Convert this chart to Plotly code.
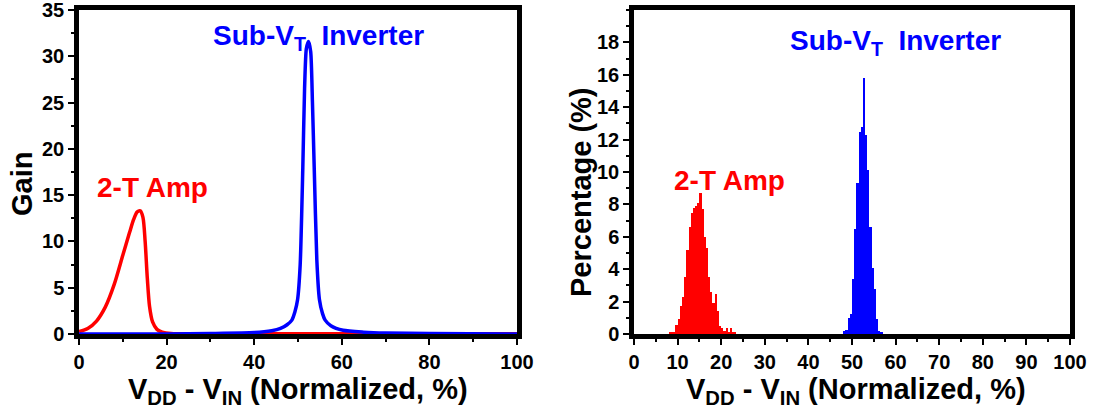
import plotly.graph_objects as go

# ---------------- data ----------------
# Left panel: gain curves vs (VDD - VIN) normalized %
amp_x = [0, 2, 4, 6, 8, 10, 11.5, 12.5, 13.3, 14.0, 14.6, 15.1, 15.6, 16.1, 16.8, 17.8, 19, 21, 30, 50, 70, 100]
amp_gain = [0.25, 0.6, 1.4, 2.9, 5.3, 8.5, 10.9, 12.4, 13.2, 13.3, 12.6, 10.0, 6.0, 3.0, 1.3, 0.5, 0.2, 0.05, 0.02, 0.02, 0.02, 0.02]

inv_x = [0, 10, 20, 30, 40, 44, 46, 47.5, 48.6, 49.3, 49.9, 50.5, 51.1, 51.5, 51.9, 52.4,
         52.9, 53.3, 53.7, 54.3, 54.9, 55.6, 56.2, 57.5, 60.3, 65, 70, 80, 100]
inv_gain = [0, 0, 0, 0.05, 0.15, 0.35, 0.6, 1.0, 1.5, 2.4, 3.7, 7.5, 18.0, 26.5, 30.8, 31.6,
            30.5, 25.0, 18.0, 8.0, 3.7, 2.2, 1.5, 0.9, 0.4, 0.2, 0.1, 0.05, 0]

# Right panel: histograms (bin width 0.5 %)
amp_bins = [8.25, 8.75, 9.25, 9.75, 10.25, 10.75, 11.25, 11.75, 12.25, 12.75, 13.25, 13.75,
            14.25, 14.75, 15.25, 15.75, 16.25, 16.75, 17.25, 17.75, 18.25, 18.75, 19.25,
            19.75, 20.25, 20.75, 21.25, 21.75, 22.25, 22.75, 23.25]
amp_pct = [0.1, 0.1, 0.1, 0.55, 0.9, 1.7, 2.3, 3.5, 5.2, 6.6, 7.5, 7.8,
           7.9, 8.1, 8.7, 7.7, 6.0, 5.3, 3.5, 2.6, 1.9, 2.5, 1.4,
           0.5, 0.4, 0.2, 0.35, 0.1, 0.4, 0.1, 0.1]

inv_bins = [48.25, 48.75, 49.25, 49.75, 50.25, 50.75, 51.25, 51.75, 52.25, 52.75,
            53.25, 53.75, 54.25, 54.75, 55.25, 55.75, 56.25, 56.75]
inv_pct = [0.2, 0.25, 1.0, 1.25, 3.4, 6.5, 9.3, 12.45, 12.75, 15.8,
           12.3, 10.1, 6.6, 4.1, 2.8, 0.9, 0.2, 0.15]

left_yticks = [0, 5, 10, 15, 20, 25, 30, 35]
left_xticks = [0, 20, 40, 60, 80, 100]
right_yticks = [0, 2, 4, 6, 8, 10, 12, 14, 16, 18]
right_xticks = [0, 10, 20, 30, 40, 50, 60, 70, 80, 90, 100]

RED = "#FF0000"
BLUE = "#0000FF"
FONT = "Liberation Sans, Arial, sans-serif"

fig = go.Figure()

fig.add_trace(go.Scatter(x=amp_x, y=amp_gain, mode="lines",
                         line=dict(color=RED, width=3.5, shape="spline", smoothing=0.8),
                         xaxis="x", yaxis="y", showlegend=False))
fig.add_trace(go.Scatter(x=inv_x, y=inv_gain, mode="lines",
                         line=dict(color=BLUE, width=3.5, shape="spline", smoothing=0.6),
                         xaxis="x", yaxis="y", showlegend=False))

fig.add_trace(go.Bar(x=amp_bins, y=amp_pct, width=0.5, marker=dict(color=RED, line=dict(width=0)),
                     xaxis="x2", yaxis="y2", showlegend=False))
fig.add_trace(go.Bar(x=inv_bins, y=inv_pct, width=0.5, marker=dict(color=BLUE, line=dict(width=0)),
                     xaxis="x2", yaxis="y2", showlegend=False))

W, H = 1107, 413
def px_x(p):
    return p / W
def px_y(p):
    return 1 - p / H

def bold(vals):
    return ["<b>%s</b>" % v for v in vals]

axis_common = dict(showline=True, linecolor="black", linewidth=4.5, mirror=True,
                   ticks="outside", ticklen=6, tickwidth=2, tickcolor="black",
                   showgrid=False, zeroline=False, ticklabeloverflow="allow",
                   automargin=False,
                   tickfont=dict(family=FONT, size=20, color="black", weight="bold"))

minor_style = dict(ticks="outside", ticklen=3, tickwidth=1.5, tickcolor="black")

fig.update_layout(
    template="none",
    width=W, height=H,
    margin=dict(l=0, r=0, t=0, b=0, autoexpand=False),
    paper_bgcolor="white", plot_bgcolor="white",
    bargap=0,
    xaxis=dict(domain=[px_x(79), px_x(517)], range=[0, 100], anchor="y",
               tickvals=left_xticks, ticktext=bold(left_xticks),
               minor=dict(dtick=10, **minor_style), **axis_common),
    yaxis=dict(domain=[px_y(334), px_y(10)], range=[0, 35], anchor="x",
               tickvals=left_yticks, ticktext=bold(left_yticks),
               minor=dict(dtick=2.5, **minor_style), **axis_common),
    xaxis2=dict(domain=[px_x(634), px_x(1070)], range=[0, 100], anchor="y2",
                tickvals=right_xticks, ticktext=bold(right_xticks),
                minor=dict(dtick=5, **minor_style), **axis_common),
    yaxis2=dict(domain=[px_y(334), px_y(10)], range=[0, 20], anchor="x2",
                tickvals=right_yticks, ticktext=bold(right_yticks),
                minor=dict(dtick=1, **minor_style), **axis_common),
)

title_font = dict(family=FONT, size=29, color="black", weight="bold")
xtitle = "V<sub>DD</sub> - V<sub>IN</sub> (Normalized, %)"

annotations = [
    dict(text=xtitle, xref="paper", yref="paper", x=px_x(298), y=px_y(391),
         xanchor="center", yanchor="middle", showarrow=False, font=title_font),
    dict(text=xtitle, xref="paper", yref="paper", x=px_x(856), y=px_y(391),
         xanchor="center", yanchor="middle", showarrow=False, font=title_font),
    dict(text="Gain", xref="paper", yref="paper", x=px_x(22), y=px_y(184),
         xanchor="center", yanchor="middle", textangle=-90, showarrow=False, font=title_font),
    dict(text="Percentage (%)", xref="paper", yref="paper", x=px_x(581), y=px_y(192),
         xanchor="center", yanchor="middle", textangle=-90, showarrow=False, font=title_font),
    dict(text="Sub-V<sub>T</sub>&nbsp;&nbsp;Inverter", xref="x", yref="y", x=54.6, y=32.0,
         xanchor="center", yanchor="middle", showarrow=False,
         font=dict(family=FONT, size=28, color=BLUE, weight="bold")),
    dict(text="2-T Amp", xref="x", yref="y", x=16.7, y=15.8,
         xanchor="center", yanchor="middle", showarrow=False,
         font=dict(family=FONT, size=28, color=RED, weight="bold")),
    dict(text="Sub-V<sub>T</sub>&nbsp;&nbsp;Inverter", xref="x2", yref="y2", x=59.9, y=18.0,
         xanchor="center", yanchor="middle", showarrow=False,
         font=dict(family=FONT, size=28, color=BLUE, weight="bold")),
    dict(text="2-T Amp", xref="x2", yref="y2", x=21.8, y=9.5,
         xanchor="center", yanchor="middle", showarrow=False,
         font=dict(family=FONT, size=28, color=RED, weight="bold")),
]
fig.update_layout(annotations=annotations)

fig.write_html("out.html")
